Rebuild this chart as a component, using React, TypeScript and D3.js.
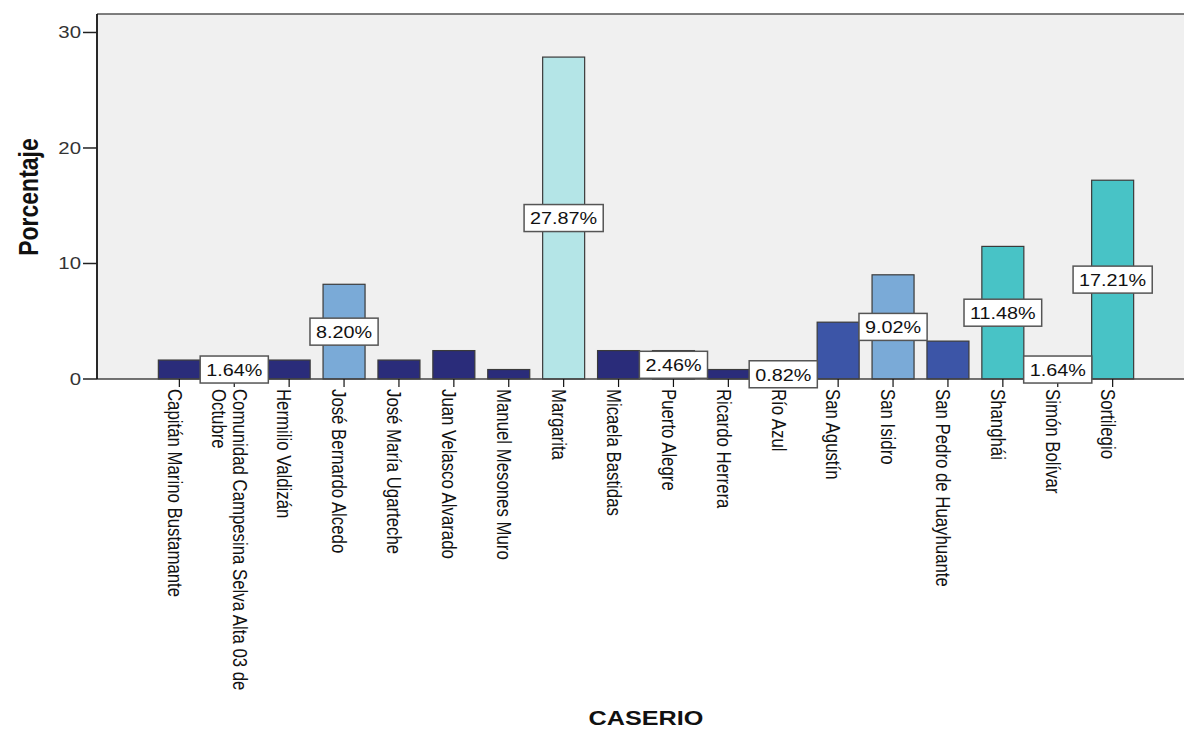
import { useRef, useEffect } from 'react';
import * as d3 from 'd3';

// CASERIO frequency chart (SPSS style)
const categories = [
  'Capitán Marino Bustamante',
  'Comunidad Campesina Selva Alta 03 de Octubre',
  'Hermilio Valdizán',
  'José Bernardo Alcedo',
  'José María Ugarteche',
  'Juan Velasco Alvarado',
  'Manuel Mesones Muro',
  'Margarita',
  'Micaela Bastidas',
  'Puerto Alegre',
  'Ricardo Herrera',
  'Río Azul',
  'San Agustín',
  'San Isidro',
  'San Pedro de Huayhuante',
  'Shanghái',
  'Simón Bolívar',
  'Sortilegio',
];

const percentages = [
  1.64, 1.64, 1.64, 8.2, 1.64, 2.46, 0.82, 27.87, 2.46, 2.46, 0.82, 0.82, 4.92, 9.02, 3.28, 11.48, 1.64,
  17.21,
];

// bars whose value label is drawn (SPSS hid the rest)
const labelled = [
  'Comunidad Campesina Selva Alta 03 de Octubre',
  'José Bernardo Alcedo',
  'Margarita',
  'Puerto Alegre',
  'Río Azul',
  'San Isidro',
  'Shanghái',
  'Simón Bolívar',
  'Sortilegio',
];

const yTicks = [0, 10, 20, 30];

const FONT = "'Liberation Sans', Arial, sans-serif";
const SX = 1.2; // the original picture is stretched horizontally

function wrap(label: string, max = 36) {
  if (label.length <= max) return [label];
  const cut = label.lastIndexOf(' ', max);
  return [label.slice(0, cut), label.slice(cut + 1)];
}

export default function App() {
  const svgRef = useRef<SVGSVGElement>(null);
  const width = 1184;
  const height = 730;

  useEffect(() => {
    const svg = d3.select(svgRef.current);
    svg.selectAll('*').remove();

    const left = 97;
    const top = 14;
    const bottom = 379;

    const x = d3
      .scaleBand<string>()
      .domain(categories)
      .range([left, left + 1098])
      .paddingInner(0.235)
      .paddingOuter(1.1175);

    const y = d3.scaleLinear().domain([0, 31.6]).range([bottom, top]);

    const color = d3
      .scaleThreshold<number, string>()
      .domain([3, 6, 10, 20])
      .range(['#2a2c7a', '#3c55a7', '#7aaad7', '#48c3c6', '#b4e5e7']);

    // plot background
    svg
      .append('rect')
      .attr('x', left)
      .attr('y', top)
      .attr('width', width - left)
      .attr('height', bottom - top)
      .attr('fill', '#f0f0f0');

    svg
      .append('line')
      .attr('x1', left)
      .attr('x2', width)
      .attr('y1', top)
      .attr('y2', top)
      .attr('stroke', '#555')
      .attr('stroke-width', 1.5);

    // bars
    svg
      .append('g')
      .selectAll('rect')
      .data(categories)
      .join('rect')
      .attr('x', (d) => x(d)!)
      .attr('y', (_, i) => y(percentages[i]))
      .attr('width', x.bandwidth())
      .attr('height', (_, i) => bottom - y(percentages[i]))
      .attr('fill', (_, i) => color(percentages[i]))
      .attr('stroke', '#3a3a3a')
      .attr('stroke-width', 1.2);

    // x axis
    svg
      .append('line')
      .attr('x1', left)
      .attr('x2', width)
      .attr('y1', bottom)
      .attr('y2', bottom)
      .attr('stroke', '#444')
      .attr('stroke-width', 1.5);

    const xg = svg.append('g');
    categories.forEach((c) => {
      const cx = x(c)! + x.bandwidth() / 2;
      xg.append('line')
        .attr('x1', cx)
        .attr('x2', cx)
        .attr('y1', bottom)
        .attr('y2', bottom + 8)
        .attr('stroke', '#111')
        .attr('stroke-width', 1.2);
      const lines = wrap(c);
      const lh = 21;
      lines.forEach((ln, j) => {
        const off = (lines.length - 1) / 2 - j;
        const tx = cx - 4.5 + off * lh;
        xg.append('text')
          .attr('transform', `translate(${tx},${bottom + 10}) scale(${SX + 0.05},1) rotate(90)`)
          .attr('dominant-baseline', 'central')
          .attr('font-family', FONT)
          .attr('font-size', 16.8)
          .attr('fill', '#111')
          .text(ln);
      });
    });

    // y axis
    svg
      .append('line')
      .attr('x1', left)
      .attr('x2', left)
      .attr('y1', top)
      .attr('y2', bottom)
      .attr('stroke', '#111')
      .attr('stroke-width', 1.8);

    const yg = svg.append('g');
    yTicks.forEach((t) => {
      yg.append('line')
        .attr('x1', left - 14)
        .attr('x2', left)
        .attr('y1', y(t))
        .attr('y2', y(t))
        .attr('stroke', '#222')
        .attr('stroke-width', 1.5);
      yg.append('text')
        .attr('transform', `translate(${left - 16},${y(t)}) scale(${SX},1)`)
        .attr('text-anchor', 'end')
        .attr('dominant-baseline', 'central')
        .attr('font-family', FONT)
        .attr('font-size', 17)
        .attr('fill', '#333')
        .text(t);
    });

    // value labels
    const lg = svg.append('g');
    categories.forEach((c, i) => {
      if (!labelled.includes(c)) return;
      const v = percentages[i];
      const cx = x(c)! + x.bandwidth() / 2;
      const cy = (y(v) + bottom) / 2;
      const box = lg.append('rect');
      const txt = lg
        .append('text')
        .attr('transform', `translate(${cx},${cy + 1}) scale(${SX},1)`)
        .attr('text-anchor', 'middle')
        .attr('dominant-baseline', 'central')
        .attr('font-family', FONT)
        .attr('font-size', 16.5)
        .attr('fill', '#111')
        .text(`${v.toFixed(2)}%`);
      const w = (txt.node() as SVGTextElement).getComputedTextLength() * SX + 12;
      box
        .attr('x', cx - w / 2)
        .attr('y', cy - 13.5)
        .attr('width', w)
        .attr('height', 27)
        .attr('fill', '#fff')
        .attr('stroke', '#555')
        .attr('stroke-width', 1.5);
    });

    // axis titles
    svg
      .append('text')
      .attr('transform', `translate(28,197) scale(${SX},1) rotate(-90)`)
      .attr('text-anchor', 'middle')
      .attr('dominant-baseline', 'central')
      .attr('font-family', FONT)
      .attr('font-size', 23)
      .attr('font-weight', 'bold')
      .attr('fill', '#111')
      .text('Porcentaje');

    svg
      .append('text')
      .attr('transform', `translate(646,725) scale(${SX},1)`)
      .attr('text-anchor', 'middle')
      .attr('font-family', FONT)
      .attr('font-size', 21)
      .attr('font-weight', 'bold')
      .attr('fill', '#111')
      .text('CASERIO');
  }, []);

  return (
    <svg
      ref={svgRef}
      width={width}
      height={height}
      viewBox={`0 0 ${width} ${height}`}
      style={{ position: 'absolute', left: 0, top: 0, background: '#fff', display: 'block' }}
    />
  );
}
